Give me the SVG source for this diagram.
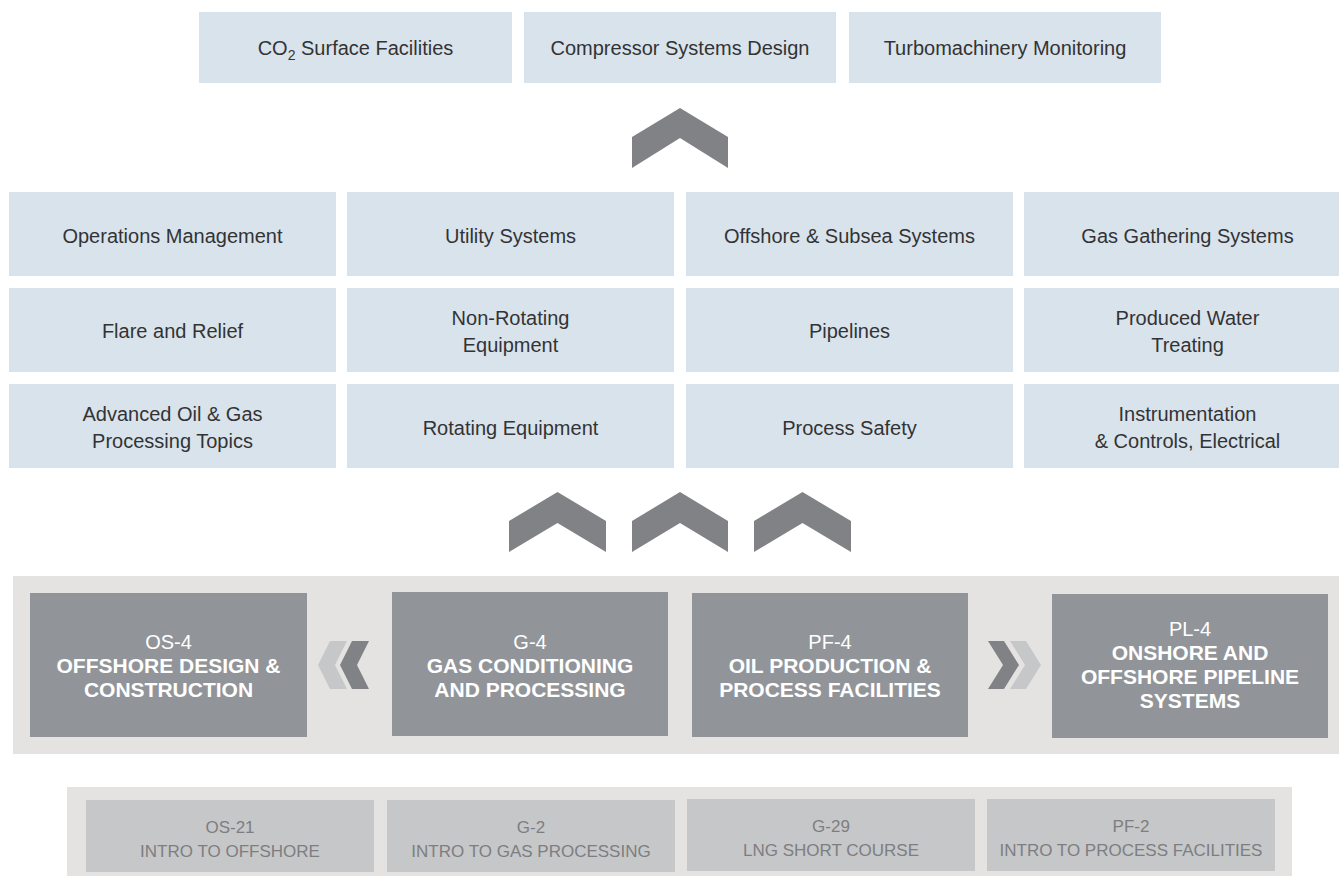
<svg xmlns="http://www.w3.org/2000/svg" width="1339" height="876" viewBox="0 0 1339 876">
<style>
.top{fill:#d9e3ec}
.tt{font-family:"Liberation Sans",Arial,sans-serif;font-size:20px;fill:#333335;text-anchor:middle}
.big{fill:#919599}
.code{font-family:"Liberation Sans",Arial,sans-serif;font-size:20px;fill:#ffffff;text-anchor:middle}
.title{font-family:"Liberation Sans",Arial,sans-serif;font-size:21px;font-weight:bold;fill:#ffffff;text-anchor:middle}
.small{fill:#c6c7c8}
.st{font-family:"Liberation Sans",Arial,sans-serif;font-size:17px;fill:#7d7e81;text-anchor:middle}
.chev{fill:#808285}
.chevl{fill:#c6c7c8}
</style>
<rect x="0" y="0" width="1339" height="876" fill="#ffffff"/>
<!-- background bands -->
<rect x="13" y="576" width="1326" height="178" fill="#e4e3e1"/>
<rect x="67" y="787" width="1225" height="89" fill="#e4e3e1"/>

<g id="connectors">
<polygon class="chev" points="632,137 680,108 728,137 728,168 680,138 632,168"/>
<polygon class="chev" points="509,521 557.5,492 606,521 606,552 557.5,523 509,552"/>
<polygon class="chev" points="632,521 680,492 728,521 728,552 680,523 632,552"/>
<polygon class="chev" points="754,521 802.5,492 851,521 851,552 802.5,523 754,552"/>
<polygon class="chevl" points="330,641 347,641 335,665 347,689 330,689 318,665"/>
<polygon class="chev" points="352,641 369,641 357,665 369,689 352,689 340,665"/>
<polygon class="chev" points="988,641 1004,641 1019,665 1004,689 988,689 1003,665"/>
<polygon class="chevl" points="1010,641 1026,641 1041,665 1026,689 1010,689 1025,665"/>
</g>

<g id="co2">
<rect class="top" x="199" y="12" width="313" height="71"/>
<text class="tt" x="355.5" y="55">CO<tspan font-size="14" dy="5">2</tspan><tspan dy="-5"> Surface Facilities</tspan></text>
</g>
<g id="compressor">
<rect class="top" x="524" y="12" width="312" height="71"/>
<text class="tt" x="680" y="55">Compressor Systems Design</text>
</g>
<g id="turbo">
<rect class="top" x="849" y="12" width="312" height="71"/>
<text class="tt" x="1005" y="55">Turbomachinery Monitoring</text>
</g>

<g id="ops">
<rect class="top" x="9" y="192" width="327" height="84"/>
<text class="tt" x="172.5" y="243">Operations Management</text>
</g>
<g id="utility">
<rect class="top" x="347" y="192" width="327" height="84"/>
<text class="tt" x="510.5" y="243">Utility Systems</text>
</g>
<g id="offshore-subsea">
<rect class="top" x="686" y="192" width="327" height="84"/>
<text class="tt" x="849.5" y="243">Offshore &amp; Subsea Systems</text>
</g>
<g id="gas-gathering">
<rect class="top" x="1024" y="192" width="327" height="84"/>
<text class="tt" x="1187.5" y="243">Gas Gathering Systems</text>
</g>

<g id="flare">
<rect class="top" x="9" y="288" width="327" height="84"/>
<text class="tt" x="172.5" y="338">Flare and Relief</text>
</g>
<g id="non-rotating">
<rect class="top" x="347" y="288" width="327" height="84"/>
<text class="tt" x="510.5" y="325">Non-Rotating</text>
<text class="tt" x="510.5" y="352">Equipment</text>
</g>
<g id="pipelines">
<rect class="top" x="686" y="288" width="327" height="84"/>
<text class="tt" x="849.5" y="338">Pipelines</text>
</g>
<g id="produced-water">
<rect class="top" x="1024" y="288" width="327" height="84"/>
<text class="tt" x="1187.5" y="325">Produced Water</text>
<text class="tt" x="1187.5" y="352">Treating</text>
</g>

<g id="advanced">
<rect class="top" x="9" y="384" width="327" height="84"/>
<text class="tt" x="172.5" y="421">Advanced Oil &amp; Gas</text>
<text class="tt" x="172.5" y="448">Processing Topics</text>
</g>
<g id="rotating">
<rect class="top" x="347" y="384" width="327" height="84"/>
<text class="tt" x="510.5" y="435">Rotating Equipment</text>
</g>
<g id="process-safety">
<rect class="top" x="686" y="384" width="327" height="84"/>
<text class="tt" x="849.5" y="435">Process Safety</text>
</g>
<g id="instrumentation">
<rect class="top" x="1024" y="384" width="327" height="84"/>
<text class="tt" x="1187.5" y="421">Instrumentation</text>
<text class="tt" x="1187.5" y="448">&amp; Controls, Electrical</text>
</g>

<g id="os4">
<rect class="big" x="30" y="593" width="277" height="144"/>
<text class="code" x="168.5" y="649">OS-4</text>
<text class="title" x="168.5" y="673">OFFSHORE DESIGN &amp;</text>
<text class="title" x="168.5" y="697">CONSTRUCTION</text>
</g>
<g id="g4">
<rect class="big" x="392" y="592" width="276" height="144"/>
<text class="code" x="530" y="649">G-4</text>
<text class="title" x="530" y="673">GAS CONDITIONING</text>
<text class="title" x="530" y="697">AND PROCESSING</text>
</g>
<g id="pf4">
<rect class="big" x="692" y="593" width="276" height="144"/>
<text class="code" x="830" y="649">PF-4</text>
<text class="title" x="830" y="673">OIL PRODUCTION &amp;</text>
<text class="title" x="830" y="697">PROCESS FACILITIES</text>
</g>
<g id="pl4">
<rect class="big" x="1052" y="594" width="276" height="144"/>
<text class="code" x="1190" y="636">PL-4</text>
<text class="title" x="1190" y="660">ONSHORE AND</text>
<text class="title" x="1190" y="684">OFFSHORE PIPELINE</text>
<text class="title" x="1190" y="708">SYSTEMS</text>
</g>

<g id="os21">
<rect class="small" x="86" y="800" width="288" height="72"/>
<text class="st" x="230" y="833">OS-21</text>
<text class="st" x="230" y="857">INTRO TO OFFSHORE</text>
</g>
<g id="g2">
<rect class="small" x="387" y="800" width="288" height="72"/>
<text class="st" x="531" y="833">G-2</text>
<text class="st" x="531" y="857">INTRO TO GAS PROCESSING</text>
</g>
<g id="g29">
<rect class="small" x="687" y="799" width="288" height="72"/>
<text class="st" x="831" y="832">G-29</text>
<text class="st" x="831" y="856">LNG SHORT COURSE</text>
</g>
<g id="pf2">
<rect class="small" x="987" y="799" width="288" height="72"/>
<text class="st" x="1131" y="832">PF-2</text>
<text class="st" x="1131" y="856">INTRO TO PROCESS FACILITIES</text>
</g>
</svg>
